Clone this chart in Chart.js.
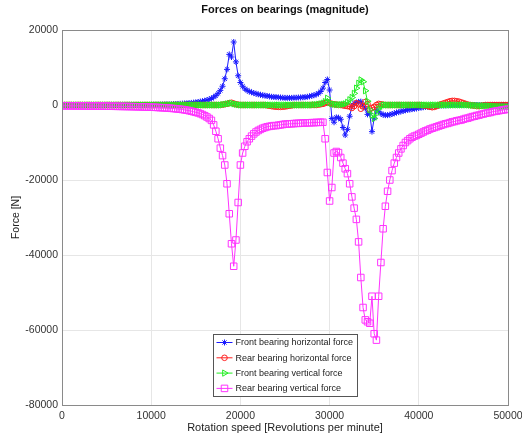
<!DOCTYPE html>
<html>
<head>
<meta charset="utf-8">
<script src="https://cdn.jsdelivr.net/npm/chart.js@4/dist/chart.umd.min.js"></script>
<style>
  body { margin: 0; background: #fff; }
  #wrap { width: 522px; height: 442px; }
</style>
</head>
<body>
<div id="wrap"><canvas id="chartForces" width="522" height="442"></canvas></div>
<script>
// ========== Dados ==========
// rotation speed samples (rpm), one every 250
const rpm = [
  0, 250, 500, 750, 1000, 1250, 1500, 1750, 2000, 2250,
  2500, 2750, 3000, 3250, 3500, 3750, 4000, 4250, 4500, 4750,
  5000, 5250, 5500, 5750, 6000, 6250, 6500, 6750, 7000, 7250,
  7500, 7750, 8000, 8250, 8500, 8750, 9000, 9250, 9500, 9750,
  10000, 10250, 10500, 10750, 11000, 11250, 11500, 11750, 12000, 12250,
  12500, 12750, 13000, 13250, 13500, 13750, 14000, 14250, 14500, 14750,
  15000, 15250, 15500, 15750, 16000, 16250, 16500, 16750, 17000, 17250,
  17500, 17750, 18000, 18250, 18500, 18750, 19000, 19250, 19500, 19750,
  20000, 20250, 20500, 20750, 21000, 21250, 21500, 21750, 22000, 22250,
  22500, 22750, 23000, 23250, 23500, 23750, 24000, 24250, 24500, 24750,
  25000, 25250, 25500, 25750, 26000, 26250, 26500, 26750, 27000, 27250,
  27500, 27750, 28000, 28250, 28500, 28750, 29000, 29250, 29500, 29750,
  30000, 30250, 30500, 30750, 31000, 31250, 31500, 31750, 32000, 32250,
  32500, 32750, 33000, 33250, 33500, 33750, 34000, 34250, 34500, 34750,
  35000, 35250, 35500, 35750, 36000, 36250, 36500, 36750, 37000, 37250,
  37500, 37750, 38000, 38250, 38500, 38750, 39000, 39250, 39500, 39750,
  40000, 40250, 40500, 40750, 41000, 41250, 41500, 41750, 42000, 42250,
  42500, 42750, 43000, 43250, 43500, 43750, 44000, 44250, 44500, 44750,
  45000, 45250, 45500, 45750, 46000, 46250, 46500, 46750, 47000, 47250,
  47500, 47750, 48000, 48250, 48500, 48750, 49000, 49250, 49500, 49750,
  50000
];

// Front bearing horizontal force [N]
const frontHorizontal = [
  0, 0, 0, 0, 0, 0, 0, 0, 0, 0,
  0, 0, 0, 0, 0, 0, 0, 0, 0, 0,
  0, 0, 0, 0, 0, 0, 0, 0, 0, 0,
  0, 0, 0, 0, 0, 0, 0, 0, 0, 0,
  50, 60, 70, 80, 100, 110, 130, 150, 170, 200,
  220, 250, 280, 320, 360, 400, 450, 500, 560, 630,
  700, 800, 900, 1000, 1150, 1300, 1500, 1750, 2100, 2500,
  3100, 3900, 5000, 7000, 9500, 13500, 12800, 16800, 11500, 7800,
  6000, 5000, 4300, 3900, 3600, 3400, 3200, 3000, 2850, 2700,
  2600, 2500, 2400, 2300, 2200, 2150, 2100, 2050, 2000, 1950,
  1900, 1900, 1900, 1900, 1950, 1950, 2000, 2000, 2050, 2100,
  2200, 2300, 2450, 2600, 2800, 3100, 3600, 4500, 6000, 6800,
  4000, -3600, -4600, -3300, -3400, -3800, -6000, -8000, -6500, -3000,
  -400, 400, 600, 800, 900, 0, -900, -2500, -2200, -7100,
  -3500, -1300, -1800, -2300, -2600, -2700, -2700, -2600, -2400, -2200,
  -2000, -1900, -1700, -1600, -1400, -1300, -1200, -1100, -1000, -900,
  -800, -700, -600, -500, -450, -400, -350, -300, -250, -200,
  -150, -100, -100, -50, -50, 0, 0, 0, 0, 0,
  0, 0, 0, 0, 0, 0, 0, 0, 0, 0,
  0, 0, 0, 0, 0, 0, 0, 0, 0, -50,
  -100
];

// Rear bearing horizontal force [N]
const rearHorizontal = [
  0, 0, 0, 0, 0, 0, 0, 0, 0, 0,
  0, 0, 0, 0, 0, 0, 0, 0, 0, 0,
  0, 0, 0, 0, 0, 0, 0, 0, 0, 0,
  0, 0, 0, 0, 0, 0, 0, 0, 0, 0,
  0, 0, 0, 0, 0, 0, 0, 0, 0, 0,
  0, 0, 0, 0, 0, 0, 0, 0, 0, 0,
  0, 0, 0, 0, 0, 0, 0, 0, 0, 0,
  0, 0, 100, 200, 300, 500, 600, 400, 200, 100,
  0, 0, 0, 0, 0, 0, 0, 0, 0, 0,
  0, 0, -100, -200, -300, -400, -450, -500, -500, -450,
  -400, -300, -200, -100, 0, 0, 0, 0, 0, 0,
  0, 0, 0, 0, 0, 100, 200, 300, 500, 800,
  500, 300, 200, 100, 0, 0, -100, -200, -300, -400,
  -800, -300, 500, 200, -1000, -400, 800, 300, -1200, -800,
  -500, 0, 300, 200, 100, 0, 0, 0, 0, 0,
  0, 0, 0, 0, 0, 0, 0, 0, 0, 0,
  0, 0, -100, -200, -300, -500, -600, -500, -300, 0,
  200, 400, 600, 800, 1000, 1100, 1100, 1000, 900, 700,
  500, 300, 100, 0, -100, -200, -300, -300, -200, -100,
  0, 0, 0, 0, 0, 0, 0, 0, 0, 0,
  0
];

// Front bearing vertical force [N]
const frontVertical = [
  0, 0, 0, 0, 0, 0, 0, 0, 0, 0,
  0, 0, 0, 0, 0, 0, 0, 0, 0, 0,
  0, 0, 0, 0, 0, 0, 0, 0, 0, 0,
  0, 0, 0, 0, 0, 0, 0, 0, 0, 0,
  0, 0, 0, 0, 0, 0, 0, 0, 0, 0,
  0, 0, 0, 0, 0, 0, 0, 0, 0, 0,
  0, 0, 0, 0, 0, 0, 0, 0, 0, 0,
  0, 0, 100, 200, 300, 400, 500, 300, 200, 100,
  0, 0, 0, 0, 0, 0, 0, 0, 0, 0,
  0, 0, 0, 0, 0, 0, 0, 0, 0, 0,
  0, 0, 0, 0, 0, 0, 0, 0, 0, 0,
  0, 0, 0, 100, 100, 200, 300, 500, 900, 1800,
  600, 300, 200, 100, 100, 100, 200, 300, 700, 1400,
  2000, 3100, 4500, 5800, 6700, 6200, 3800, 1000, -1300, -2700,
  -3600, -2300, -1000, -300, 0, 0, 0, 0, 0, 0,
  0, 0, 0, 0, 0, 0, 0, 0, 0, 0,
  0, 0, 0, 0, 0, 0, 0, 0, 0, 0,
  0, 0, 0, 0, 0, 0, 0, 0, 0, 0,
  0, 0, 0, -50, -100, -100, -150, -150, -200, -200,
  -250, -250, -300, -300, -350, -350, -400, -400, -450, -450,
  -500
];

// Rear bearing vertical force [N]
const rearVertical = [
  -200, -200, -210, -210, -220, -220, -230, -230, -240, -240,
  -250, -250, -260, -260, -270, -270, -280, -290, -300, -300,
  -310, -320, -330, -340, -350, -360, -370, -380, -390, -400,
  -410, -420, -440, -450, -470, -480, -500, -520, -540, -560,
  -580, -600, -630, -660, -690, -720, -760, -800, -840, -890,
  -940, -1000, -1060, -1130, -1200, -1300, -1400, -1520, -1650, -1800,
  -1950, -2100, -2300, -2550, -2850, -3200, -3600, -4100, -5300, -7000,
  -9000, -11500, -13500, -16000, -21000, -29000, -37000, -43000, -36000, -26000,
  -16000, -12800, -11000, -9800, -9000, -8300, -7700, -7200, -6800, -6500,
  -6200, -6000, -5800, -5700, -5600, -5500, -5500, -5400, -5300, -5200,
  -5100, -5100, -5000, -5000, -4950, -4900, -4900, -4850, -4800, -4800,
  -4750, -4750, -4700, -4700, -4650, -4650, -4600, -4600, -9000, -18000,
  -25600, -22000, -12800, -12400, -12700, -14000, -15500, -17000, -18300, -21000,
  -24500, -27500, -30500, -36500, -46000, -54000, -57300, -57800, -58200, -51000,
  -61000, -62700, -51000, -42000, -33000, -27000, -23000, -20000, -17500, -15500,
  -14000, -12800, -11700, -10800, -10000, -9500, -9000, -8600, -8300, -8100,
  -7800, -7500, -7200, -6900, -6700, -6400, -6200, -6000, -5800, -5600,
  -5400, -5200, -5000, -4900, -4700, -4500, -4400, -4200, -4100, -4000,
  -3800, -3600, -3500, -3300, -3100, -3000, -2800, -2700, -2500, -2400,
  -2200, -2100, -2000, -1800, -1700, -1600, -1500, -1400, -1300, -1200,
  -1100
];

const seriesLabels = [
  "Front bearing horizontal force",
  "Rear bearing horizontal force",
  "Front bearing vertical force",
  "Rear bearing vertical force",
];

const xTicks = [0, 10000, 20000, 30000, 40000, 50000];
const yTicks = [20000, 0, -20000, -40000, -60000, -80000];

const chartTitle = "Forces on bearings (magnitude)";

// ========== Helpers ==========
const FONT = "'Liberation Sans', Arial, sans-serif";

function pontos(valores) {
  return rpm.map((r, i) => ({ x: r, y: valores[i] }));
}

// estilo de cada serie (cor, marcador)
const estilos = [
  { color: "#1a1aff", pointStyle: "star", radius: 3, rotation: 0 },
  { color: "#ff2020", pointStyle: "circle", radius: 2.8, rotation: 0 },
  { color: "#22ee22", pointStyle: "triangle", radius: 3.6, rotation: 90 },
  { color: "#ff33ff", pointStyle: "rect", radius: 4.6, rotation: 0 },
];

// box round the plot (top and right sides too) + title centred on the plot
const moldura = {
  id: "moldura",
  afterDraw(chart) {
    const { ctx, chartArea: a } = chart;
    ctx.save();
    ctx.strokeStyle = "#8a8a8a";
    ctx.lineWidth = 1;
    ctx.strokeRect(Math.round(a.left) + 0.5, Math.round(a.top) + 0.5,
      Math.round(a.right - a.left), Math.round(a.bottom - a.top));

    ctx.fillStyle = "#111";
    ctx.font = "bold 11px " + FONT;
    ctx.textAlign = "center";
    ctx.textBaseline = "middle";
    ctx.fillText(chartTitle, (a.left + a.right) / 2, 10);
    ctx.restore();
  },
};

// legend inside the plot, bottom centre
const legendaInterna = {
  id: "legendaInterna",
  afterDraw(chart) {
    const { ctx, chartArea: a } = chart;
    const boxW = 144, boxH = 62;
    const x0 = Math.round((a.left + a.right) / 2 - boxW / 2) + 0.5;
    const y0 = Math.round(a.bottom - 9 - boxH) + 0.5;

    ctx.save();
    ctx.fillStyle = "#fff";
    ctx.fillRect(x0, y0, boxW, boxH);
    ctx.strokeStyle = "#555";
    ctx.lineWidth = 1;
    ctx.strokeRect(x0, y0, boxW, boxH);

    ctx.font = "9px " + FONT;
    ctx.textBaseline = "middle";
    seriesLabels.forEach((label, i) => {
      const y = y0 + 8 + i * 15.3;
      const st = estilos[i];
      ctx.strokeStyle = st.color;
      ctx.lineWidth = 1;
      ctx.beginPath();
      ctx.moveTo(x0 + 3, y);
      ctx.lineTo(x0 + 19, y);
      ctx.stroke();
      if (Chart.helpers && Chart.helpers.drawPoint) {
        ctx.strokeStyle = st.color;
        ctx.fillStyle = "rgba(0,0,0,0)";
        Chart.helpers.drawPoint(ctx, {
          pointStyle: st.pointStyle,
          rotation: st.rotation,
          radius: st.radius,
          borderWidth: 1,
        }, x0 + 11, y);
      }
      ctx.fillStyle = "#222";
      ctx.fillText(label, x0 + 22, y + 0.5);
    });
    ctx.restore();
  },
};

// ========== Grafico ==========
function montarGrafico() {
  const datasets = [frontHorizontal, rearHorizontal, frontVertical, rearVertical].map(
    (valores, i) => ({
      label: seriesLabels[i],
      data: pontos(valores),
      borderColor: estilos[i].color,
      backgroundColor: "rgba(0,0,0,0)",
      borderWidth: 1,
      pointStyle: estilos[i].pointStyle,
      pointRadius: estilos[i].radius,
      pointRotation: estilos[i].rotation,
      pointBorderWidth: 1,
      pointBorderColor: estilos[i].color,
      pointBackgroundColor: "rgba(0,0,0,0)",
      tension: 0,
      // last series drawn on top, like the original
      order: 3 - i,
    })
  );

  new Chart(document.getElementById("chartForces"), {
    type: "line",
    data: { datasets },
    options: {
      responsive: false,
      animation: false,
      layout: { padding: { top: 30, right: 0, left: 0, bottom: 0 } },
      plugins: {
        legend: { display: false },
        tooltip: { enabled: false },
        title: { display: false },
      },
      scales: {
        x: {
          type: "linear",
          min: 0,
          max: 50000,
          afterBuildTicks: (s) => { s.ticks = xTicks.map((v) => ({ value: v })); },
          afterFit: (s) => {
            s.height = 37;
            s.paddingLeft = 0;
            s.paddingRight = 14;
          },
          ticks: {
            color: "#333",
            font: { family: FONT, size: 10.5 },
            padding: 5,
            maxRotation: 0,
            callback: (v) => String(v),
          },
          grid: { color: "#e6e6e6", drawTicks: false },
          border: { color: "#8a8a8a" },
          title: {
            display: true,
            text: "Rotation speed [Revolutions per minute]",
            color: "#222",
            font: { family: FONT, size: 11 },
            padding: { top: 2, bottom: 7 },
          },
        },
        y: {
          type: "linear",
          min: -80000,
          max: 20000,
          afterBuildTicks: (s) => { s.ticks = yTicks.slice().reverse().map((v) => ({ value: v })); },
          afterFit: (s) => {
            s.width = 62;
            s.paddingTop = 0;
          },
          ticks: {
            color: "#333",
            font: { family: FONT, size: 10.5 },
            padding: 4,
            callback: (v) => String(v),
          },
          grid: { color: "#e6e6e6", drawTicks: false },
          border: { color: "#8a8a8a" },
          title: {
            display: true,
            text: "Force [N]",
            color: "#222",
            font: { family: FONT, size: 10.5 },
            padding: { top: 10, bottom: 0 },
          },
        },
      },
    },
    plugins: [moldura, legendaInterna],
  });
}

window.addEventListener("load", montarGrafico);
</script>
</body>
</html>
